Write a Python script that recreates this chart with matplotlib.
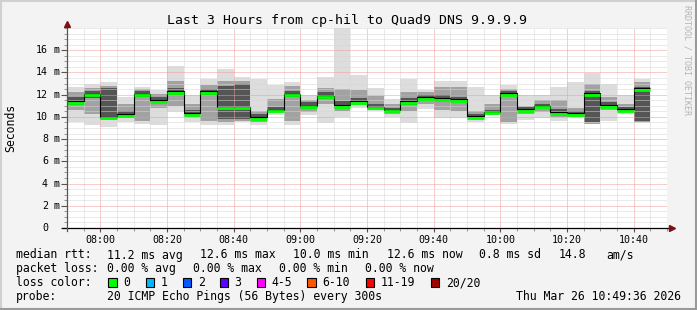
import numpy as np
import pandas as pd
import matplotlib
matplotlib.use("Agg")
import matplotlib.pyplot as plt
import matplotlib.dates as mdates
from matplotlib import transforms
from matplotlib.patches import Rectangle
from matplotlib.lines import Line2D
import datetime as dt

# ---------------- data ----------------
start = "2026-03-26 07:50"
end = "2026-03-26 10:50"
step = "5min"

median = [11.42, 12.10, 10.00, 10.25, 12.07, 11.50, 12.30, 10.34, 12.30, 10.90,
          10.90, 9.98, 10.64, 12.07, 11.00, 11.90, 11.06, 11.42, 10.90, 10.64,
          11.42, 11.78, 11.68, 11.60, 10.08, 10.45, 12.15, 10.70, 11.00, 10.42,
          10.32, 12.15, 11.06, 10.70, 12.60]
smoke_max = [12.7, 13.0, 13.15, 11.8, 12.7, 12.4, 14.6, 12.0, 13.4, 14.35,
             13.6, 13.4, 12.9, 13.1, 12.0, 13.6, 18.0, 13.75, 12.6, 11.6,
             13.4, 12.4, 13.2, 13.2, 12.65, 11.95, 12.85, 12.0, 11.95, 12.65,
             13.1, 13.95, 13.0, 11.95, 13.4]
smoke_min = [9.5, 9.3, 9.1, 9.55, 9.4, 9.3, 10.4, 9.55, 9.3, 9.3,
             9.5, 9.3, 10.2, 9.3, 10.2, 9.45, 10.0, 10.8, 10.5, 10.0,
             9.45, 10.75, 9.9, 9.9, 9.5, 10.15, 9.35, 9.7, 9.9, 9.6,
             9.95, 9.35, 9.6, 10.3, 9.45]
band_lo = [10.6, 10.3, 9.7, 10.0, 9.6, 10.8, 11.0, 10.0, 9.6, 9.5,
           9.6, 9.5, 10.4, 9.6, 10.4, 11.2, 10.5, 11.1, 10.6, 10.3,
           10.5, 11.2, 10.6, 10.5, 9.8, 10.3, 9.5, 10.3, 10.4, 10.0,
           10.0, 9.4, 10.6, 10.4, 9.5]
band_hi = [12.2, 12.6, 12.8, 11.2, 12.5, 12.1, 13.2, 11.2, 12.9, 13.2,
           13.2, 10.5, 11.6, 12.8, 11.5, 12.6, 12.5, 12.4, 11.9, 11.2,
           12.2, 12.2, 12.7, 12.7, 10.5, 11.2, 12.5, 11.0, 11.5, 11.5,
           10.8, 13.0, 11.8, 11.2, 13.1]
core_lo = [11.1, 11.7, 9.9, 10.1, 11.8, 11.3, 12.0, 10.2, 12.0, 9.8,
           9.8, 9.8, 10.5, 11.8, 10.7, 11.6, 10.8, 11.3, 10.8, 10.5,
           11.1, 11.5, 11.5, 11.4, 9.95, 10.4, 11.9, 10.5, 10.8, 10.3,
           10.15, 9.5, 10.8, 10.55, 9.6]
core_hi = [11.8, 12.3, 12.6, 10.5, 12.3, 11.8, 12.6, 10.6, 12.5, 12.8,
           13.0, 10.3, 10.9, 12.3, 11.3, 12.2, 11.4, 11.7, 11.2, 10.8,
           11.7, 12.0, 12.0, 11.8, 10.3, 10.6, 12.3, 10.9, 11.2, 10.7,
           10.5, 12.3, 11.3, 10.9, 12.7]

x_tick_labels = ["08:00", "08:20", "08:40", "09:00", "09:20", "09:40",
                 "10:00", "10:20", "10:40"]
y_tick_values = [0, 2, 4, 6, 8, 10, 12, 14, 16]
y_unit = "m"

loss_labels = ["0", "1", "2", "3", "4-5", "6-10", "11-19", "20/20"]
loss_colors = ["#00ff00", "#00b8ff", "#0059ff", "#5e00ff", "#ff00ff",
               "#ff5500", "#ff0000", "#a10000"]

rtt_stats = ["11.2 ms avg", "12.6 ms max", "10.0 ms min", "12.6 ms now",
             "0.8 ms sd", "14.8", "am/s"]
loss_stats = ["0.00 % avg", "0.00 % max", "0.00 % min", "0.00 % now"]

title = "Last 3 Hours from cp-hil to Quad9 DNS 9.9.9.9"
probe_text = "20 ICMP Echo Pings (56 Bytes) every 300s"
date_text = "Thu Mar 26 10:49:36 2026"

# ---------------- figure ----------------
W, H = 697, 310
mono = "DejaVu Sans Mono"
fig = plt.figure(figsize=(W / 100, H / 100), dpi=100, facecolor="#f3f3f3")


def fx(px):
    return px / W


def fy(py):
    return 1 - py / H


ax = fig.add_axes([fx(67), fy(228), 600 / W, 200 / H])
ax.set_facecolor("white")

t = pd.date_range(start, periods=len(median), freq=step).to_pydatetime()
width = dt.timedelta(minutes=5)
edges = list(t) + [t[-1] + width]

ax.bar(t, np.subtract(smoke_max, smoke_min), bottom=smoke_min, width=width,
       align="edge", color="#dddddd", lw=0, zorder=1)
ax.bar(t, np.subtract(band_hi, band_lo), bottom=band_lo, width=width,
       align="edge", color="#a2a2a2", lw=0, zorder=1.1)
ax.bar(t, np.subtract(core_hi, core_lo), bottom=core_lo, width=width,
       align="edge", color="#555555", lw=0, zorder=1.2)

ax.stairs(median, mdates.date2num(edges), baseline=None, color="black",
          lw=0.8, zorder=3)
off = ax.transData + transforms.ScaledTranslation(0, -1.6 / 100, fig.dpi_scale_trans)
ax.hlines(median, t, [e for e in edges[1:]], colors=loss_colors[0], lw=2.0,
          transform=off, zorder=4)

x0 = pd.Timestamp(start).to_pydatetime()
x1 = pd.Timestamp(end).to_pydatetime()
ax.set_xlim(x0, x1)
ax.set_ylim(0, 18)

# ticks / grid
major_x = [pd.Timestamp("2026-03-26 " + s).to_pydatetime() for s in x_tick_labels]
minor_x = pd.date_range(start, end, freq="5min").to_pydatetime()
ax.set_xticks(major_x)
ax.set_xticklabels(x_tick_labels, family=mono, fontsize=7.2)
ax.set_xticks(minor_x, minor=True)
ax.set_yticks(y_tick_values)
ax.set_yticklabels([])
ax.set_yticks(np.arange(0, 18.01, 0.5), minor=True)
ax.tick_params(axis="x", which="major", length=3, pad=2, color="#555555")
ax.tick_params(axis="x", which="minor", length=2, color="#888888")
ax.tick_params(axis="y", which="major", length=4, color="#555555")
ax.tick_params(axis="y", which="minor", length=2, color="#888888")

ax.grid(which="minor", color="#d6d6d6", linestyle=(0, (1, 1)), lw=0.72, zorder=5)
ax.grid(which="major", color="#f09a9a", linestyle=(0, (1, 1)), lw=0.72, zorder=5.1)
ax.set_axisbelow(False)
for s in ax.spines.values():
    s.set_visible(False)

# axis lines with arrows
ax.plot([-0.008, 1.005], [0, 0], transform=ax.transAxes, color="black",
        lw=0.9, clip_on=False, zorder=6)
ax.plot([0, 0], [-0.015, 1.0], transform=ax.transAxes, color="#555555",
        lw=0.9, clip_on=False, zorder=6)
ax.plot([1.009], [0], marker=">", transform=ax.transAxes, color="#801010",
        ms=4, clip_on=False, zorder=7)
ax.plot([0], [1.02], marker="^", transform=ax.transAxes, color="#801010",
        ms=4, clip_on=False, zorder=7)

# y tick labels: number right-aligned, unit after
bt = transforms.blended_transform_factory(fig.transFigure, ax.transData)
for v in y_tick_values:
    fig.text(fx(48), v, str(v), transform=bt, ha="right", va="center",
             family=mono, fontsize=7.2)
    if v != 0:
        fig.text(fx(54), v, y_unit, transform=bt, ha="left", va="center",
                 family=mono, fontsize=7.2)

# title, labels
fig.text(fx(347), fy(24), title, ha="center", va="baseline", family=mono,
         fontsize=9.55)
fig.text(fx(11), fy(128), "Seconds", rotation=90, ha="center", va="center",
         family=mono, fontsize=8.3)
fig.text(fx(687), fy(60), "RRDTOOL / TOBI OETIKER", rotation=270, ha="center",
         va="center", family=mono, fontsize=6, color="#b4b4b4")

# legend rows
fs = 8.3
rows_y = [258.5, 272.3, 286.3, 300.2]
fig.text(fx(16), fy(rows_y[0]), "median rtt:", family=mono, fontsize=fs, va="baseline")
for s, x in zip(rtt_stats, [107.3, 200, 293.3, 386.7, 479.3, 558.3, 606.7]):
    fig.text(fx(x), fy(rows_y[0]), s, family=mono, fontsize=fs, va="baseline")
fig.text(fx(16), fy(rows_y[1]), "packet loss:", family=mono, fontsize=fs, va="baseline")
for s, x in zip(loss_stats, [107.3, 193.3, 279.3, 365]):
    fig.text(fx(x), fy(rows_y[1]), s, family=mono, fontsize=fs, va="baseline")
fig.text(fx(16), fy(rows_y[2]), "loss color:", family=mono, fontsize=fs, va="baseline")
for lab, c, x in zip(loss_labels, loss_colors,
                     [108.3, 145.7, 182.7, 219.7, 256.7, 307.3, 365.7, 430.7]):
    fig.patches.append(Rectangle((fx(x), fy(286.5)), 8.5 / W, 8.5 / H,
                                 transform=fig.transFigure, facecolor=c,
                                 edgecolor="black", lw=0.8))
    fig.text(fx(x + 15), fy(rows_y[2]), lab, family=mono, fontsize=fs, va="baseline")
fig.text(fx(16), fy(rows_y[3]), "probe:", family=mono, fontsize=fs, va="baseline")
fig.text(fx(107.3), fy(rows_y[3]), probe_text, family=mono, fontsize=fs, va="baseline")
fig.text(fx(680.5), fy(rows_y[3]), date_text, family=mono, fontsize=fs,
         va="baseline", ha="right")

# 3D-ish frame
fig.add_artist(Line2D([0, 1], [fy(1), fy(1)], color="#d0d0d0", lw=1.5))
fig.add_artist(Line2D([fx(1), fx(1)], [0, 1], color="#d0d0d0", lw=1.5))
fig.add_artist(Line2D([0, 1], [fy(309), fy(309)], color="#9a9a9a", lw=1.5))
fig.add_artist(Line2D([fx(696), fx(696)], [0, 1], color="#9a9a9a", lw=1.5))

fig.savefig("out.png", dpi=100, facecolor=fig.get_facecolor())
